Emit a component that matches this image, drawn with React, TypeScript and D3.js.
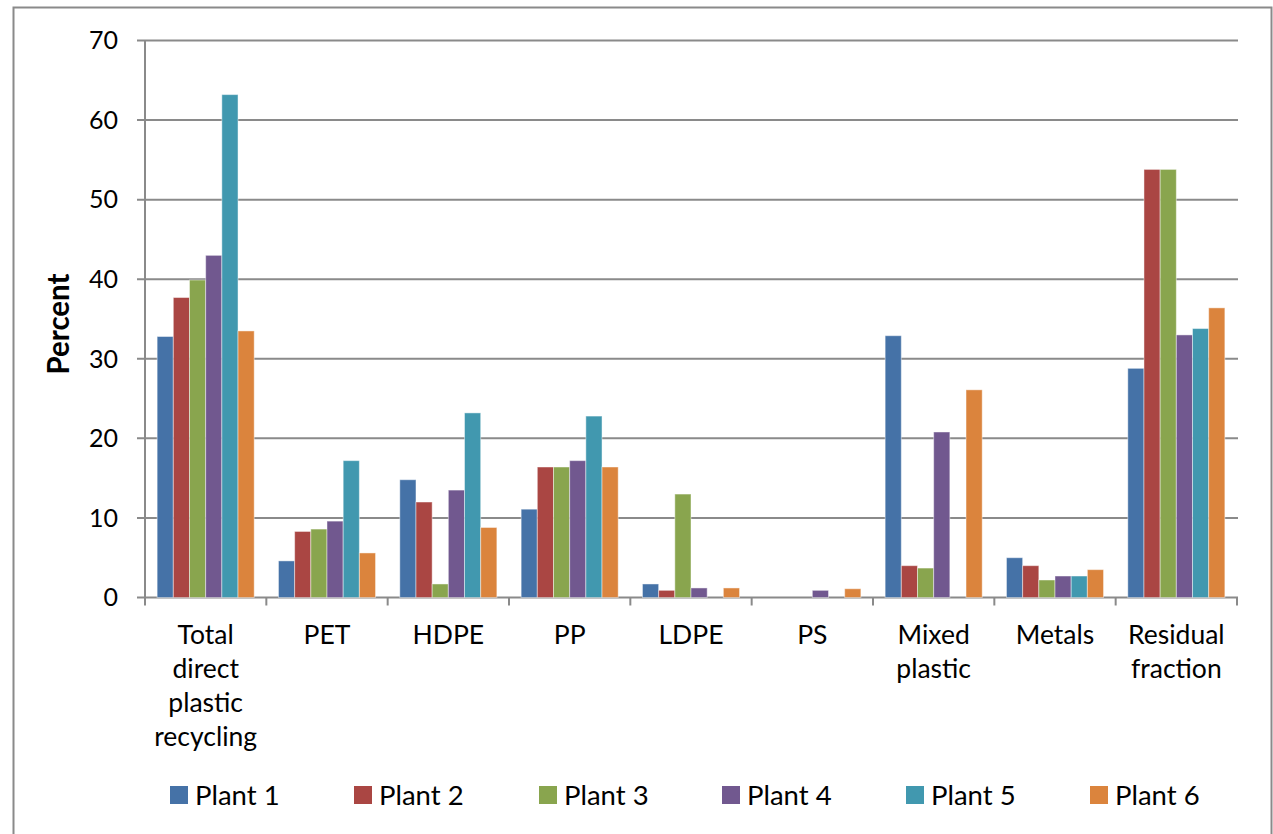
import React from "react";
import * as d3 from "d3";

const categories = [
  "Total direct plastic recycling",
  "PET",
  "HDPE",
  "PP",
  "LDPE",
  "PS",
  "Mixed plastic",
  "Metals",
  "Residual fraction",
];
const seriesNames = ["Plant 1", "Plant 2", "Plant 3", "Plant 4", "Plant 5", "Plant 6"];
const plant1 = [32.8, 4.6, 14.8, 11.1, 1.7, 0, 32.9, 5.0, 28.8];
const plant2 = [37.7, 8.3, 12.0, 16.4, 0.9, 0, 4.0, 4.0, 53.8];
const plant3 = [39.9, 8.6, 1.7, 16.4, 13.0, 0, 3.7, 2.2, 53.8];
const plant4 = [43.0, 9.6, 13.5, 17.2, 1.2, 0.9, 20.8, 2.7, 33.0];
const plant5 = [63.2, 17.2, 23.2, 22.8, 0, 0, 0, 2.7, 33.8];
const plant6 = [33.5, 5.6, 8.8, 16.4, 1.2, 1.1, 26.1, 3.5, 36.4];
const yTicks = [0, 10, 20, 30, 40, 50, 60, 70];
const colors = ["#4572A7", "#AA4643", "#89A54E", "#71588F", "#4198AF", "#DB843D"];

const allSeries = [plant1, plant2, plant3, plant4, plant5, plant6];

const W = 1273;
const H = 834;
const FONT = "Lato, 'Open Sans', sans-serif";

export default function App() {
  const left = 145;
  const right = 1237;
  const top = 40.5;
  const bottom = 597.5;

  const x0 = d3.scaleBand<string>().domain(categories).range([left, right]).paddingInner(0.2).paddingOuter(0.1);
  const x1 = d3.scaleBand<string>().domain(seriesNames).range([0, x0.bandwidth()]).padding(0);
  const y = d3.scaleLinear().domain([0, 70]).range([bottom, top]);
  const step = x0.step();

  const legendX = [170, 354, 539, 722, 906, 1090];

  return (
    <svg width={W} height={H} style={{ position: "absolute", left: 0, top: 0, background: "#fff" }}>
      <rect x={13.5} y={7.5} width={1258} height={900} fill="#fff" stroke="#8a8a8a" strokeWidth={2} />
      {/* gridlines */}
      {yTicks.map((t) => (
        <g key={t}>
          <line x1={left - 8} x2={right + 1} y1={y(t)} y2={y(t)} stroke="#8a8a8a" strokeWidth={2} />
          <text x={118} y={y(t)} dy="0.35em" textAnchor="end" fontFamily={FONT} fontSize={25} fill="#000">
            {t}
          </text>
        </g>
      ))}
      {/* y axis */}
      <line x1={left} x2={left} y1={top} y2={bottom + 1} stroke="#8a8a8a" strokeWidth={2} />
      {/* x tick marks */}
      {d3.range(categories.length + 1).map((i) => (
        <line key={i} x1={left + i * step} x2={left + i * step} y1={bottom} y2={bottom + 8} stroke="#8a8a8a" strokeWidth={2} />
      ))}
      {/* bars */}
      {allSeries.map((vals, si) => (
        <g key={si}>
          {vals.map((v, ci) =>
            v > 0 ? (
              <rect
                key={ci}
                x={(x0(categories[ci]) as number) + (x1(seriesNames[si]) as number)}
                y={y(v)}
                width={x1.bandwidth()}
                height={y(0) - y(v)}
                fill={colors[si]}
                stroke="rgba(255,255,255,0.45)"
                strokeWidth={1}
              />
            ) : null
          )}
        </g>
      ))}
      {/* category labels */}
      {categories.map((c) => {
        const cx = (x0(c) as number) + x0.bandwidth() / 2;
        const words = c.split(" ");
        return (
          <text key={c} textAnchor="middle" fontFamily={FONT} fontSize={26.5} fill="#000">
            {words.map((w, i) => (
              <tspan key={i} x={cx} y={644 + i * 34}>
                {w}
              </tspan>
            ))}
          </text>
        );
      })}
      {/* y title */}
      <text
        transform="translate(69,324) rotate(-90)"
        textAnchor="middle"
        fontFamily={FONT}
        fontWeight="bold"
        fontSize={29.5}
        fill="#000"
      >
        Percent
      </text>
      {/* legend */}
      {seriesNames.map((s, i) => (
        <g key={s}>
          <rect x={legendX[i]} y={786} width={18} height={18} fill={colors[i]} />
          <text x={legendX[i] + 25} y={795} dy="0.36em" fontFamily={FONT} fontSize={27.5} fill="#000">
            {s}
          </text>
        </g>
      ))}
    </svg>
  );
}
